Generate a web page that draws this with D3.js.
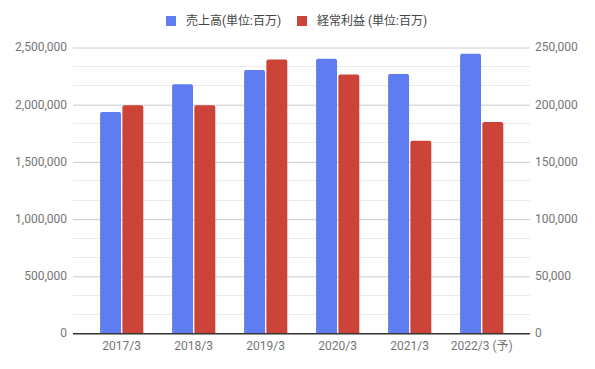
<!DOCTYPE html>
<html><head><meta charset="utf-8">
<script src="https://cdn.jsdelivr.net/npm/d3@7"></script>
<style>
html,body{margin:0;padding:0;background:#fff;}
svg{display:block;font-family:Roboto,"Noto Sans CJK JP",sans-serif;}
</style></head><body>
<svg id="c" width="595" height="369"></svg>
<script>
const categories = ["2017/3","2018/3","2019/3","2020/3","2021/3","2022/3 (予)"];
const sales = [1932000, 2175000, 2300000, 2398000, 2265000, 2440000];
const ordinaryProfit = [199000, 199000, 239000, 226000, 168000, 184500];
const seriesNames = ["売上高(単位:百万)", "経常利益 (単位:百万)"];
const colors = ["#5F7CF1", "#CC4338"];
const leftTicks = [0, 500000, 1000000, 1500000, 2000000, 2500000];
const rightTicks = [0, 50000, 100000, 150000, 200000, 250000];

const svg = d3.select("#c");
const plotL = 73, plotR = 530, plotT = 47, plotB = 333;

const yL = d3.scaleLinear().domain([0, 2500000]).range([plotB, plotT]);
const yR = d3.scaleLinear().domain([0, 250000]).range([plotB, plotT]);
const x0 = d3.scaleBand().domain(categories).range([85.7, 517.7]).paddingInner(0.4).paddingOuter(0.2);
const x1 = d3.scaleBand().domain([0,1]).range([0, x0.bandwidth()]).paddingInner(0.06);

const fmt = d3.format(",");

// minor gridlines
const minor = [];
for (let i = 0; i < leftTicks.length - 1; i++) {
  const a = leftTicks[i], b = leftTicks[i+1];
  minor.push(a + (b-a)/3, a + 2*(b-a)/3);
}
svg.append("g").selectAll("line").data(minor).join("line")
  .attr("x1", plotL).attr("x2", plotR)
  .attr("y1", d => Math.round(yL(d)) + 0.5).attr("y2", d => Math.round(yL(d)) + 0.5)
  .attr("stroke", "#ebebeb").attr("stroke-width", 1);

// left axis (major grid + labels)
const gL = svg.append("g").attr("transform", `translate(${plotL},0)`)
  .call(d3.axisLeft(yL).tickValues(leftTicks).tickFormat(fmt).tickSize(-(plotR - plotL)).tickPadding(6));
gL.select(".domain").remove();
gL.selectAll(".tick line").attr("stroke", d => d === 0 ? "#333" : "#cccccc")
  .attr("transform", "translate(0,0.5)");
gL.selectAll(".tick text").attr("fill", "#757575").attr("font-size", 12).attr("font-family", "Roboto");

// right axis labels
const gR = svg.append("g").attr("transform", `translate(${plotR},0)`)
  .call(d3.axisRight(yR).tickValues(rightTicks).tickFormat(fmt).tickSize(0).tickPadding(5));
gR.select(".domain").remove();
gR.selectAll(".tick text").attr("fill", "#757575").attr("font-size", 12).attr("font-family", "Roboto");

// bars
function roundTop(x, y, w, h, r) {
  r = Math.min(r, h, w/2);
  return `M${x},${y+h}V${y+r}Q${x},${y} ${x+r},${y}H${x+w-r}Q${x+w},${y} ${x+w},${y+r}V${y+h}Z`;
}
const data = categories.map((c, i) => ({c, v: [sales[i], ordinaryProfit[i]]}));
const groups = svg.append("g").selectAll("g").data(data).join("g")
  .attr("transform", d => `translate(${x0(d.c)},0)`);
groups.selectAll("path").data(d => d.v.map((v, k) => ({v, k}))).join("path")
  .attr("fill", d => colors[d.k])
  .attr("d", d => {
    const sc = d.k === 0 ? yL : yR;
    const y = sc(d.v);
    return roundTop(x1(d.k), y, x1.bandwidth(), plotB - y, 2);
  });

// zero line on top
svg.append("line").attr("x1", plotL).attr("x2", plotR)
  .attr("y1", plotB + 0.5).attr("y2", plotB + 0.5).attr("stroke", "#333").attr("stroke-width", 1);

// x axis labels
const gX = svg.append("g").attr("transform", `translate(0,${plotB})`)
  .call(d3.axisBottom(x0).tickSize(0).tickPadding(8));
gX.select(".domain").remove();
gX.selectAll(".tick text").attr("fill", "#757575").attr("font-size", 12)
  .attr("font-family", "Roboto, 'Noto Sans CJK JP'");

// legend
const legX = [166, 297];
const leg = svg.append("g");
seriesNames.forEach((n, i) => {
  leg.append("rect").attr("x", legX[i]).attr("y", 16).attr("width", 10).attr("height", 10).attr("fill", colors[i]);
  leg.append("text").attr("x", legX[i] + 20).attr("y", 21).attr("dy", "0.35em")
    .attr("font-size", 12).attr("fill", "#444")
    .attr("font-family", "Roboto, 'Noto Sans CJK JP'").text(n);
});
</script>
</body></html>
